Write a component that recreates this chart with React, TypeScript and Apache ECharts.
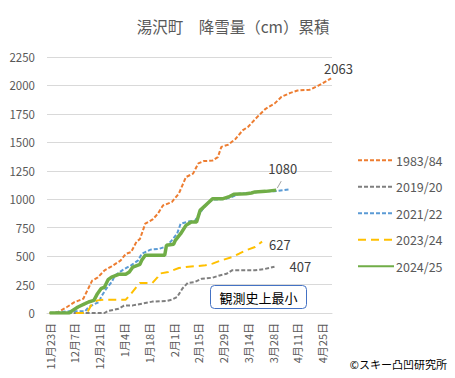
import React, { useEffect, useRef } from "react";
import * as echarts from "echarts";

const TITLE = "湯沢町　降雪量（cm）累積";
const START = [2023, 10, 22]; // Nov 22 (leap-year season so 2/29 exists)
const DAYS = 161;
const LABEL_EVERY = 14;
const Y_TICKS = [0, 250, 500, 750, 1000, 1250, 1500, 1750, 2000, 2250];

const s1983: [string, number][] = [
  ["11/23", 0], ["11/25", 0], ["11/28", 10], ["12/3", 55], ["12/7", 95], ["12/12", 125],
  ["12/17", 285], ["12/20", 310], ["12/24", 375], ["12/28", 410], ["1/2", 460], ["1/5", 520],
  ["1/8", 535], ["1/11", 625], ["1/13", 650], ["1/16", 785], ["1/20", 820], ["1/23", 870],
  ["1/26", 945], ["1/31", 975], ["2/4", 1050], ["2/8", 1195], ["2/12", 1225], ["2/15", 1315],
  ["2/18", 1335], ["2/23", 1340], ["2/26", 1370], ["2/28", 1460], ["3/3", 1480], ["3/7", 1530],
  ["3/11", 1605], ["3/14", 1635], ["3/20", 1735], ["3/24", 1795], ["3/29", 1840], ["4/2", 1900],
  ["4/7", 1935], ["4/11", 1955], ["4/18", 1963], ["4/23", 2000], ["4/30", 2063],
];
const s2019: [string, number][] = [
  ["11/23", 0], ["12/24", 0], ["12/26", 18], ["1/1", 38], ["1/4", 65], ["1/9", 67],
  ["1/14", 82], ["1/20", 100], ["1/28", 105], ["1/31", 117], ["2/3", 140], ["2/6", 215],
  ["2/9", 265], ["2/13", 272], ["2/17", 302], ["2/23", 310], ["2/27", 330], ["3/2", 345],
  ["3/5", 375], ["3/18", 375], ["3/23", 385], ["3/29", 407],
];
const s2021: [string, number][] = [
  ["11/23", 0], ["12/4", 15], ["12/13", 15], ["12/15", 53], ["12/18", 76], ["12/21", 97],
  ["12/22", 140], ["12/25", 214], ["12/28", 272], ["12/30", 331], ["1/3", 375], ["1/8", 419],
  ["1/12", 463], ["1/14", 521], ["1/19", 557], ["1/24", 565], ["1/28", 586], ["1/31", 639],
  ["2/3", 697], ["2/5", 785], ["2/10", 806], ["2/13", 809], ["2/15", 858], ["2/18", 926],
  ["2/20", 961], ["2/23", 996], ["3/1", 1002], ["3/5", 1020], ["3/9", 1049], ["3/16", 1055],
  ["3/22", 1069], ["3/29", 1069], ["4/6", 1085],
];
const s2023: [string, number][] = [
  ["11/23", 0], ["12/14", 0], ["12/17", 82], ["12/20", 111], ["12/24", 117], ["1/5", 117],
  ["1/8", 170], ["1/11", 229], ["1/13", 264], ["1/20", 264], ["1/23", 316], ["1/24", 346],
  ["1/29", 360], ["2/4", 396], ["2/8", 404], ["2/19", 419], ["2/23", 434], ["2/27", 457],
  ["3/5", 492], ["3/9", 521], ["3/13", 551], ["3/18", 580], ["3/20", 604], ["3/22", 627],
];
const s2024: [string, number][] = [
  ["11/23", 0], ["12/4", 0], ["12/6", 23], ["12/9", 53], ["12/13", 82], ["12/15", 97],
  ["12/18", 111], ["12/20", 170], ["12/22", 214], ["12/24", 228], ["12/26", 293], ["12/28", 316],
  ["1/1", 340], ["1/5", 340], ["1/7", 360], ["1/9", 404], ["1/13", 428], ["1/14", 463],
  ["1/16", 507], ["1/27", 507], ["1/28", 595], ["2/1", 604], ["2/2", 639], ["2/5", 697],
  ["2/8", 770], ["2/11", 800], ["2/14", 800], ["2/16", 902], ["2/20", 961], ["2/23", 1005],
  ["2/29", 1005], ["3/3", 1020], ["3/6", 1043], ["3/13", 1049], ["3/16", 1055], ["3/18", 1064],
  ["3/24", 1069], ["3/30", 1080],
];

const SERIES_NAMES = ["1983/84", "2019/20", "2021/22", "2023/24", "2024/25"];
const COLORS = ["#ED7D31", "#7F7F7F", "#5B9BD5", "#FFC000", "#70AD47"];
const NOTE = "観測史上最小";
const COPYRIGHT = "©スキー凸凹研究所";

const FONT = "'Noto Sans CJK JP', 'Noto Sans', sans-serif";

function buildCategories(): string[] {
  const out: string[] = [];
  const d = new Date(START[0], START[1], START[2]);
  for (let i = 0; i < DAYS; i++) {
    out.push(`${d.getMonth() + 1}月${d.getDate()}日`);
    d.setDate(d.getDate() + 1);
  }
  return out;
}
const toCat = (md: string) => {
  const [m, d] = md.split("/");
  return `${m}月${d}日`;
};
const mkData = (arr: [string, number][]) => arr.map((p) => [toCat(p[0]), p[1]]);

function endLabel(offset?: [number, number]) {
  if (!offset) return { show: false };
  return {
    show: true,
    formatter: (p: any) => String(p.value[1]),
    color: "#404040",
    fontSize: 13,
    fontFamily: FONT,
    offset,
  };
}

export default function App() {
  const ref = useRef<HTMLDivElement>(null);
  useEffect(() => {
    if (!ref.current) return;
    const chart = echarts.init(ref.current, undefined, { renderer: "svg" });
    const cats = buildCategories();
    const dash = [4, 2];
    const mk = (i: number, arr: [string, number][], width: number, type: any, off?: [number, number], z = 2) => ({
      name: SERIES_NAMES[i],
      type: "line",
      symbol: "none",
      color: COLORS[i],
      lineStyle: { width, type, color: COLORS[i] },
      data: mkData(arr),
      endLabel: endLabel(off),
      z,
    });
    const graphics: any[] = [
      {
        type: "group",
        left: 210,
        top: 285,
        children: [
          {
            type: "rect",
            shape: { x: 0, y: 0, width: 96, height: 23, r: 4 },
            style: { fill: "#ffffff", stroke: "#4472C4", lineWidth: 1 },
          },
          {
            type: "text",
            x: 48,
            y: 12,
            style: { text: NOTE, fontSize: 13, fontFamily: FONT, fill: "#000000", align: "center", verticalAlign: "middle" },
          },
        ],
      },
      {
        type: "text",
        right: 8,
        top: 358,
        style: { text: COPYRIGHT, fontSize: 11, fontFamily: FONT, fill: "#000000" },
      },
    ];
    const option: any = {
      animation: false,
      backgroundColor: "#ffffff",
      textStyle: { fontFamily: FONT },
      title: {
        text: TITLE,
        left: 228,
        textAlign: "center",
        top: 13,
        textStyle: { fontSize: 15.5, fontWeight: "normal", color: "#595959", fontFamily: FONT },
      },
      legend: {
        orient: "vertical",
        left: 352,
        top: 149,
        itemWidth: 36,
        itemHeight: 12,
        itemGap: 14,
        itemStyle: { opacity: 0 },
        textStyle: { fontSize: 12.5, color: "#595959", fontFamily: FONT, padding: [0, 0, 0, -3] },
        data: SERIES_NAMES,
      },
      grid: { left: 47, right: 123, top: 57, bottom: 65 },
      xAxis: {
        type: "category",
        data: cats,
        boundaryGap: true,
        axisTick: { show: false },
        axisLine: { lineStyle: { color: "#D9D9D9" } },
        axisLabel: {
          interval: (idx: number) => (idx - 1) % LABEL_EVERY === 0,
          rotate: 90,
          color: "#595959",
          fontSize: 11,
          fontFamily: FONT,
          margin: 10,
        },
      },
      yAxis: {
        type: "value",
        min: Y_TICKS[0],
        max: Y_TICKS[Y_TICKS.length - 1],
        interval: 250,
        axisLine: { show: false },
        axisTick: { show: false },
        axisLabel: { color: "#595959", fontSize: 11.5, fontFamily: FONT, margin: 12, formatter: (v: number) => String(v) },
        splitLine: { lineStyle: { color: "#D9D9D9" } },
      },
      series: [
        mk(0, s1983, 2, dash, [-15, -10]),
        mk(1, s2019, 2, dash, [7, 0]),
        mk(2, s2021, 2, dash),
        mk(3, s2023, 2, [8, 5], [-1, 3]),
        mk(4, s2024, 3.5, "solid", [-16, -22], 3),
      ],
      graphic: graphics,
    };
    chart.setOption(option);
    // leader line from the 2024/25 end point to its label, placed through the chart's own scales
    const last = s2024[s2024.length - 1];
    const pt = chart.convertToPixel({ gridIndex: 0 }, [toCat(last[0]), last[1]]) as number[];
    if (pt && isFinite(pt[0])) {
      chart.setOption({
        graphic: [
          ...graphics,
          {
            type: "line",
            shape: { x1: pt[0] + 1, y1: pt[1] - 2, x2: pt[0] + 5, y2: pt[1] - 9 },
            style: { stroke: "#A5A5A5", lineWidth: 1 },
            z: 10,
          },
        ],
      });
    }
    return () => chart.dispose();
  }, []);
  return <div ref={ref} style={{ width: 455, height: 378, position: "absolute", left: 0, top: 0 }} />;
}
